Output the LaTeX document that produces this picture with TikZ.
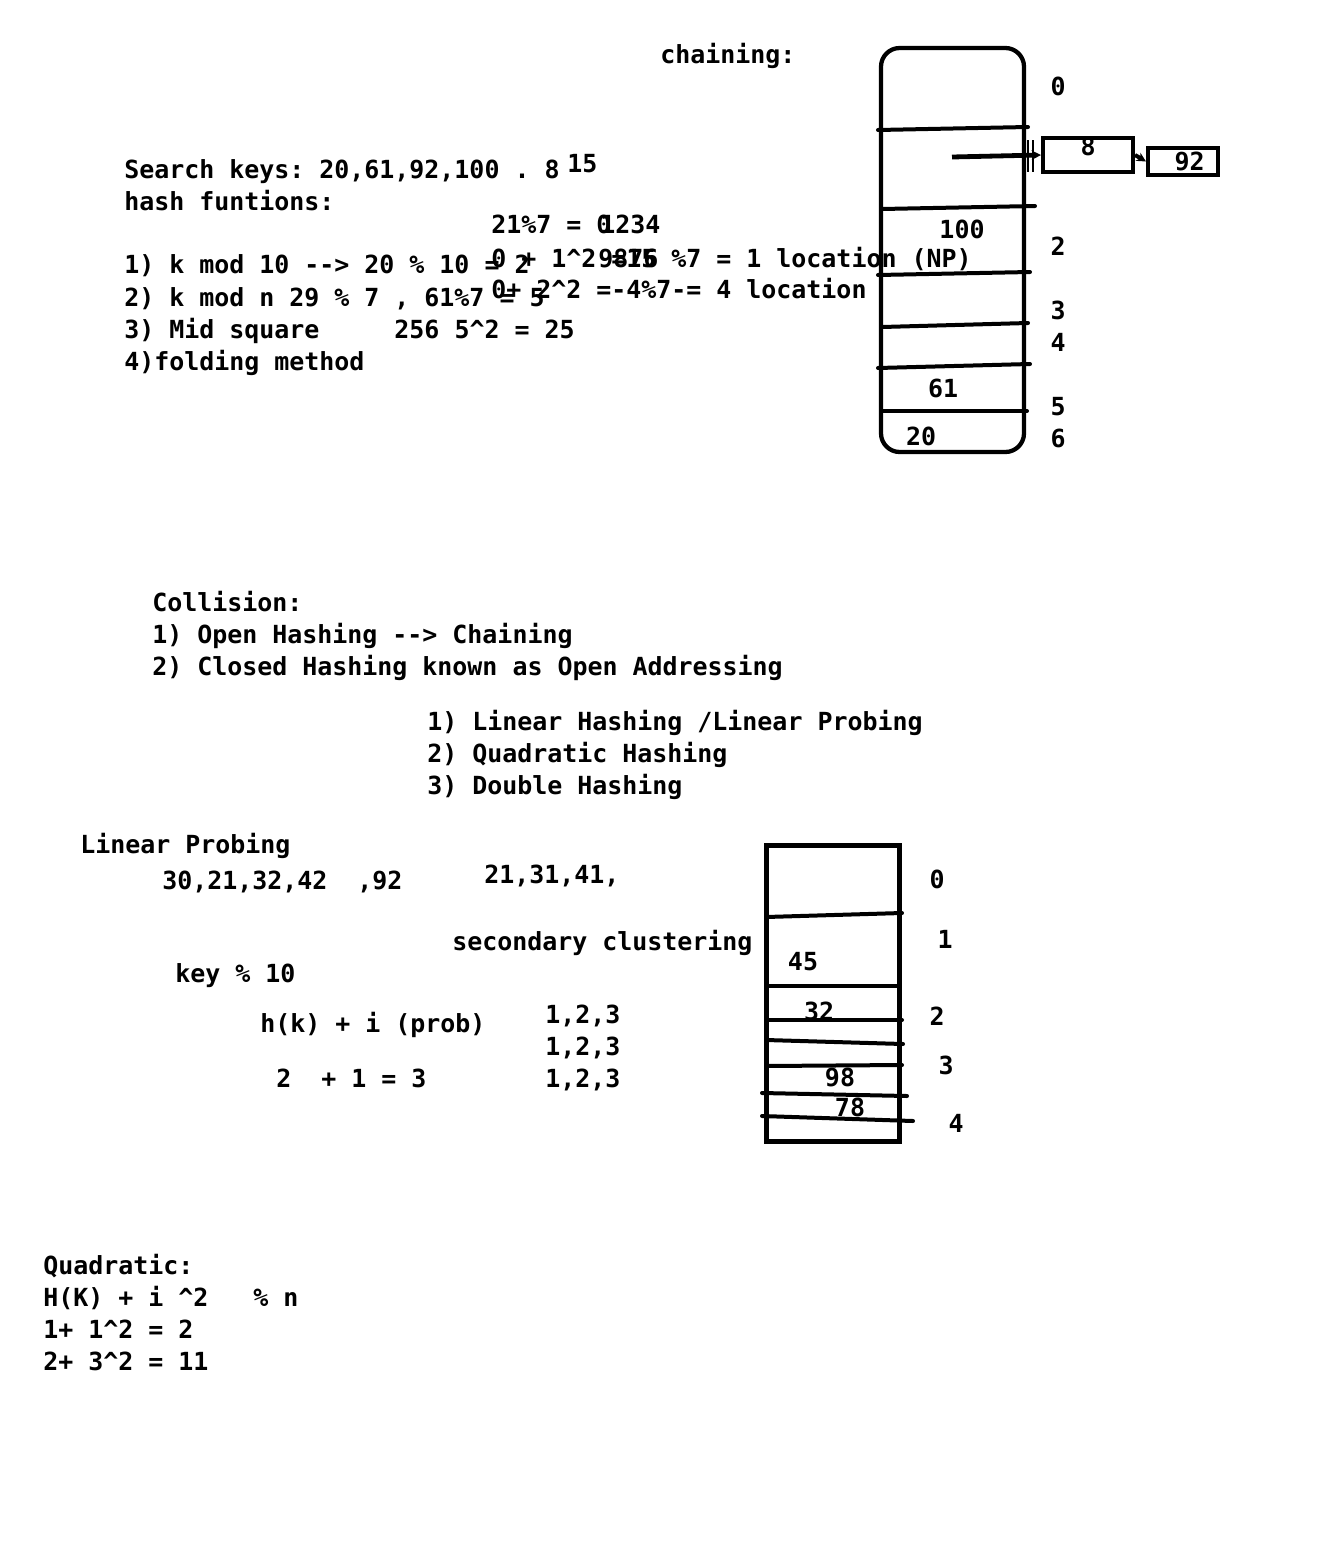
\documentclass[tikz,border=0pt]{standalone}
\usepackage{fontspec}
\setmonofont{DejaVu Sans Mono}
\usetikzlibrary{arrows.meta, positioning}
\newcommand\notefont{\fontsize{18.7}{22}\selectfont\ttfamily\bfseries}
\begin{document}
\begin{tikzpicture}[
    x=0.75pt, y=-0.75pt,
    note/.style={anchor=base west, inner sep=0pt, font=\notefont},
    idx/.style={anchor=base, inner sep=0pt, font=\notefont},
    wall/.style={line width=3.2pt},
    rule/.style={line width=3pt, line cap=round},
    listbox/.style={draw, line width=3pt, inner sep=0pt, font=\notefont},
    link/.style={line width=3pt, -{Stealth[length=7pt, width=7pt]}}
]
\useasboundingbox (0,0) rectangle (1325,1563);

\node[note] (chaintitle) at (660,63) {chaining:};
\node[note] (keys) at (124,178) {Search keys: 20,61,92,100 . 8};
\node[note] (k15) at (567,172) {15};
\node[note] (hashfn) at (124,210) {hash funtions:};
\node[note] (r7) at (491,233) {21\%7 = 0};
\node[note] (r7b) at (600,233) {1234};
\node[note] (m1) at (124,273) {1) k mod 10 --> 20 \% 10 = 2};
\node[note] (m1o) at (491,267) {0 + 1\textasciicircum{}2 =15 \%7 = 1 location (NP)};
\node[note] (m1x) at (598,267) {9876};
\node[note] (m2) at (124,306) {2) k mod n 29 \% 7 , 61\%7 = 5};
\node[note] (m2o) at (491,298) {0+ 2\textasciicircum{}2 = 4\%7 = 4 location};
\node[note] (m2x) at (611,298) {-~~~-};
\node[note] (m3) at (124,338) {3) Mid square~~~~~256 5\textasciicircum{}2 = 25};
\node[note] (m4) at (124,370) {4)folding method};

\draw[wall, rounded corners=14pt] (881,48) rectangle (1024,452);
\foreach \xa/\ya/\xb/\yb in {878/130/1028/127, 882/209/1035/206, 878/275/1030/272,
    882/327/1028/323, 878/368/1030/364, 882/411/1027/411}
    \draw[rule] (\xa,\ya) -- (\xb,\yb);
\foreach \n/\y in {0/95, 2/255, 3/319, 4/351, 5/415, 6/447}
    \node[idx] (c\n) at (1058,\y) {\n};
\node[idx] (v100) at (962,238) {100};
\node[idx] (v61) at (943,397) {61};
\node[idx] (v20) at (921,445) {20};

\coordinate (ptr) at (952,157);
\node[listbox, minimum width=67.5pt, minimum height=25.5pt] (b8) at (1088,155)
    {\raisebox{6pt}[0.7em][0pt]{8}};
\node[listbox, minimum width=52.5pt, minimum height=20.25pt] (b92) at (1183,161.5) {\hspace{10pt}92};
\draw[line width=0.9pt] (1028,140) -- (1028,172) (1033,140) -- (1033,172);
\draw[link, line width=3.6pt] (ptr) -- (b8.west);
\draw[link] (b8.east) -- (b92.west);

\node[note] (coll) at (152,611) {Collision:};
\node[note] (coll1) at (152,643) {1) Open Hashing --> Chaining};
\node[note] (coll2) at (152,675) {2) Closed Hashing known as Open Addressing};
\node[note] (oa1) at (427,730) {1) Linear Hashing /Linear Probing};
\node[note] (oa2) at (427,762) {2) Quadratic Hashing};
\node[note] (oa3) at (427,794) {3) Double Hashing};

\node[note] (lp) at (80,853) {Linear Probing};
\node[note] (lpkeys) at (162,889) {30,21,32,42~~,92};
\node[note] (lpkeys2) at (484,883) {21,31,41,};
\node[note] (secclus) at (452,950) {secondary clustering};
\node[note] (keymod) at (175,982) {key \% 10};
\node[note] (hk) at (260,1032) {h(k) + i (prob)};
\foreach \y [count=\i] in {1023, 1055, 1087}
    \node[note] (pr\i) at (545,\y) {1,2,3};
\node[note] (sum) at (276,1087) {2~~+ 1 = 3};

\draw[line width=3.75pt] (766,845) rectangle (899,1141);
\foreach \xa/\ya/\xb/\yb in {766/917/902/913, 766/986/899/986, 766/1020/902/1020,
    766/1040/903/1044, 766/1066/902/1065, 762/1093/907/1096, 762/1116/913/1121}
    \draw[rule] (\xa,\ya) -- (\xb,\yb);
\foreach \n/\x/\y in {0/937/888, 1/945/948, 2/937/1025, 3/946/1074, 4/956/1132}
    \node[idx] (t\n) at (\x,\y) {\n};
\node[idx] (v45) at (803,970) {45};
\node[idx] (v32) at (819,1020) {32};
\node[idx] (v98) at (840,1086) {98};
\node[idx] (v78) at (850,1116) {78};

\node[note] (quad) at (43,1274) {Quadratic:};
\node[note] (quad1) at (43,1306) {H(K) + i \textasciicircum{}2~~~\% n};
\node[note] (quad2) at (43,1338) {1+ 1\textasciicircum{}2 = 2};
\node[note] (quad3) at (43,1370) {2+ 3\textasciicircum{}2 = 11};

\end{tikzpicture}
\end{document}
